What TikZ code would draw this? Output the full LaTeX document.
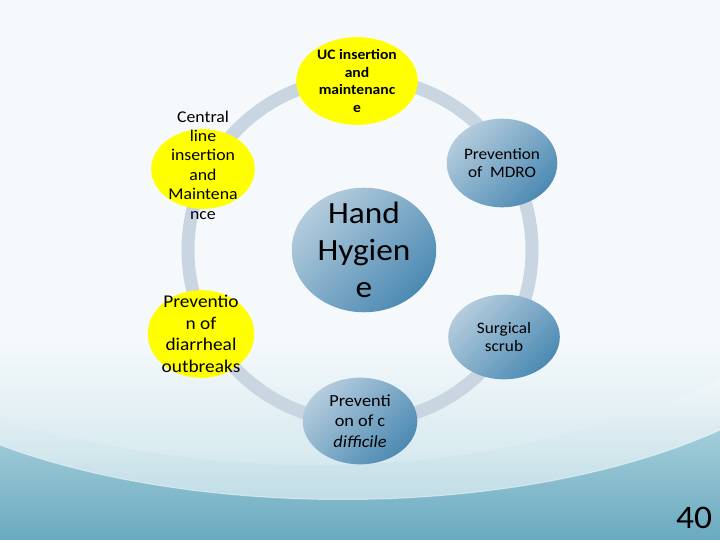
\documentclass[tikz,border=0pt]{standalone}
\usepackage{fontspec}
\setmainfont{Carlito}[FakeStretch=1.08]
\usetikzlibrary{shapes.geometric, positioning, calc}

\definecolor{ringgray}{HTML}{C9D6E1}
\definecolor{hiyellow}{HTML}{FFFF00}
\definecolor{bublight}{HTML}{B4CCDD}
\definecolor{bubdark}{HTML}{4C8AB3}
\definecolor{bgtop}{HTML}{F5F9FB}
\definecolor{bgmid}{HTML}{C3DFE8}
\definecolor{wavetop}{HTML}{A3CDDA}
\definecolor{wavebot}{HTML}{6AAAC0}

\begin{document}
\begin{tikzpicture}[
        x=1bp, y=1bp,
        bubble/.style={ellipse, inner sep=0pt},
        yellowbub/.style={bubble, fill=hiyellow},
        bluebub/.style={bubble, top color=bublight, bottom color=bubdark, shading angle=45},
        caption/.style={align=center, inner sep=0pt, text=black},
        smalltxt/.style={caption, font=\fontsize{16}{19}\selectfont},
        ring/.style={draw=ringgray, line width=13bp}
    ]
        % background and waves
        \useasboundingbox (0,0) rectangle (720,540);
        \fill[bgtop] (0,0) rectangle (720,540);
        \shade[top color=bgtop, bottom color=bgmid] (0,0) rectangle (720,200);
        \shade[top color=bgtop, bottom color=wavetop, opacity=0.6]
            (0,120) .. controls (250,50) and (500,60) .. (720,160) -- (720,0) -- (0,0) -- cycle;
        \shade[top color=wavetop, bottom color=wavebot]
            (0,95) .. controls (200,20) and (520,20) .. (720,110) -- (720,0) -- (0,0) -- cycle;
        \draw[white, opacity=0.5, line width=1bp]
            (0,95) .. controls (200,20) and (520,20) .. (720,110);

        % ring
        \coordinate (ringc) at (360,290);
        \draw[ring] (ringc) circle (172);

        % outer bubbles
        \node[yellowbub, minimum width=122, minimum height=88] (uc) at (357,459) {};
        \node[bluebub, minimum width=111, minimum height=89] (mdro) at (502,377) {};
        \node[bluebub, minimum width=112, minimum height=85] (scrub) at (504,203) {};
        \node[bluebub, minimum width=115, minimum height=87] (cdiff) at (360,119) {};
        \node[yellowbub, minimum width=107, minimum height=88] (diarr) at (201,206) {};
        \node[yellowbub, minimum width=104, minimum height=80] (central) at (203,371) {};

        % centre
        \node[bluebub, minimum width=145, minimum height=125] (hand) at (364,290) {};

        % texts
        \node[caption, font=\fontsize{14.5}{17.5}\selectfont\bfseries] (uctxt) at (uc) {UC insertion\\and\\maintenanc\\e};
        \node[smalltxt, font=\fontsize{16}{18.5}\selectfont] (mdrotxt) at (mdro) {Prevention\\of\ \ MDRO};
        \node[smalltxt] (scrubtxt) at (scrub) {Surgical\\scrub};
        \node[caption, font=\fontsize{17}{20.5}\selectfont] (cdifftxt) at (cdiff) {Preventi\\on of c\\\textit{difficile}};
        \node[caption, font=\fontsize{18}{21.5}\selectfont] (diarrtxt) at (diarr) {Preventio\\n of\\diarrheal\\outbreaks};
        \node[caption, font=\fontsize{16.5}{19.5}\selectfont] (centraltxt) at ($(central)+(0,4)$) {Central\\line\\insertion\\and\\Maintena\\nce};
        \node[caption, font=\fontsize{31}{37}\selectfont] (handtxt) at (hand) {Hand\\Hygien\\e};

        % page number
        \node[caption, font=\fontsize{33}{40}\selectfont] (pagenum) at (694,22) {40};
    \end{tikzpicture}
\end{document}
